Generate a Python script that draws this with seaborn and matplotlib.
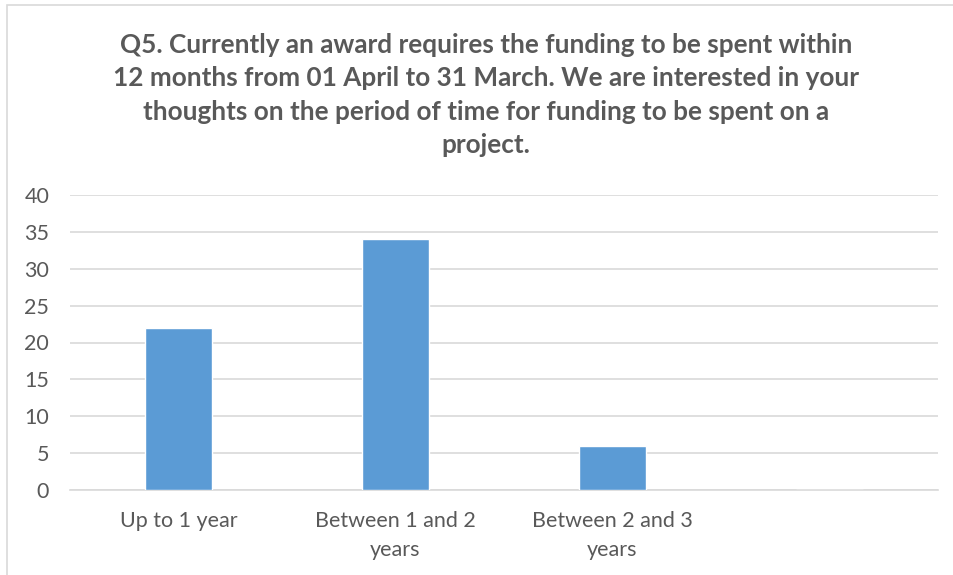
import matplotlib
matplotlib.use("Agg")
import matplotlib.pyplot as plt
import seaborn as sns
import pandas as pd
from matplotlib.patches import Rectangle

categories = ["Up to 1 year", "Between 1 and 2\nyears", "Between 2 and 3\nyears", ""]
values = [22, 34, 6, 0]
yticks = [0, 5, 10, 15, 20, 25, 30, 35, 40]
title = ("Q5. Currently an award requires the funding to be spent within\n"
         "12 months from 01 April to 31 March. We are interested in your\n"
         "thoughts on the period of time for funding to be spent on a\n"
         "project.")

sns.set_theme(style="white")
plt.rcParams['font.family'] = ['Lato', 'DejaVu Sans']

TEXT = "#595959"
GRID = "#d9d9d9"
BAR = "#5b9bd5"

fig = plt.figure(figsize=(9.54, 5.75), dpi=100)
ax = fig.add_axes([70/954, 1-490/575, (938-70)/954, (490-195)/575])

df = pd.DataFrame({"cat": categories, "val": values})
sns.barplot(data=df, x="cat", y="val", order=categories, color=BAR,
            width=0.305, saturation=1, ax=ax, zorder=3)

ax.set_ylim(0, 40)
ax.set_yticks(yticks)
ax.set_xlim(-0.5, 3.5)
ax.yaxis.grid(True, color=GRID, linewidth=1.2, zorder=0)
ax.set_axisbelow(True)
for s in ["top", "right", "left"]:
    ax.spines[s].set_visible(False)
ax.spines["bottom"].set_color(GRID)
ax.spines["bottom"].set_linewidth(1.2)
ax.set_xlabel("")
ax.set_ylabel("")
ax.tick_params(axis="y", length=0, labelsize=15.5, labelcolor=TEXT, pad=15)
ax.tick_params(axis="x", length=0, labelsize=15.5, labelcolor=TEXT, pad=15)
for lbl in ax.get_yticklabels():
    lbl.set_horizontalalignment("right")
for lbl in ax.get_xticklabels():
    lbl.set_linespacing(1.55)

fig.text(486/954, 1-95/575, title, ha="center", va="center", fontsize=18.8,
         fontweight="bold", color=TEXT, linespacing=1.48)

fig.patches.append(Rectangle((7/954, -0.01), 1.0, 1-5/575+0.01, transform=fig.transFigure,
                             fill=False, edgecolor=GRID, linewidth=1.2))

fig.savefig("out.png", dpi=100)
